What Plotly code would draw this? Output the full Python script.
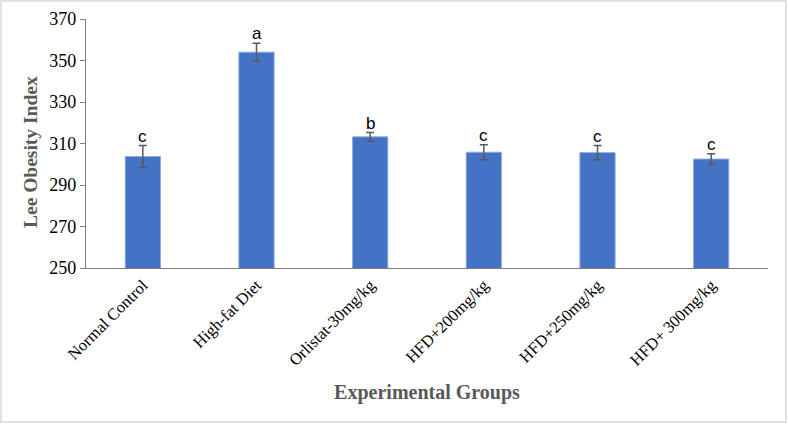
import plotly.graph_objects as go

groups = ["Normal Control", "High-fat Diet", "Orlistat-30mg/kg",
          "HFD+200mg/kg", "HFD+250mg/kg", "HFD+ 300mg/kg"]
values = [303.7, 354.0, 313.2, 305.8, 305.6, 302.5]
errors = [5.3, 4.3, 2.1, 3.6, 3.4, 2.6]
letters = ["c", "a", "b", "c", "c", "c"]
y_ticks = [250, 270, 290, 310, 330, 350, 370]

W, H = 788, 425
ML, MR, MT, MB = 86, 20, 19, 157
PW, PH = W - ML - MR, H - MT - MB

fig = go.Figure()
fig.add_trace(go.Bar(
    x=groups, y=values,
    marker=dict(color="#4472C4", line=dict(color="#8FAADC", width=1)),
    error_y=dict(type="data", array=errors, visible=True,
                 color="#595959", thickness=1.5, width=4),
    showlegend=False,
))

for g, v, e, l in zip(groups, values, errors, letters):
    fig.add_annotation(x=g, y=v + e, text=l, showarrow=False,
                       yanchor="bottom", yshift=-2,
                       font=dict(family="Liberation Sans, Arial", size=17, color="#000000"))

# y-axis title placed as annotation (slightly below plot centre as in reference)
fig.add_annotation(xref="paper", yref="paper",
                   x=(30 - ML) / PW, y=(MT + PH - 152) / PH,
                   text="<b>Lee Obesity Index</b>", textangle=-90, showarrow=False,
                   xanchor="center", yanchor="middle",
                   font=dict(family="Liberation Serif, Times New Roman, serif",
                             size=19.5, color="#595959"))

# outer light frame
fig.add_shape(type="rect", xref="paper", yref="paper",
              x0=(1 - ML) / PW, x1=(W - 2 - ML) / PW,
              y0=(MT + PH - (H - 3)) / PH, y1=(MT + PH - 1) / PH,
              line=dict(color="#D9D9D9", width=1.5), fillcolor="rgba(0,0,0,0)")

fig.update_layout(
    width=W, height=H,
    margin=dict(l=ML, r=MR, t=MT, b=MB, autoexpand=False),
    paper_bgcolor="white", plot_bgcolor="white",
    bargap=0.69,
    font=dict(family="Liberation Serif, Times New Roman, serif", color="#000000"),
    xaxis=dict(
        showline=True, linecolor="#7F7F7F", linewidth=1.2,
        ticks="", tickangle=-45, tickfont=dict(size=16.5, color="#000000"),
        title=dict(text="<b>Experimental Groups</b>", standoff=16,
                   font=dict(size=20, color="#595959")),
        automargin=False,
    ),
    yaxis=dict(
        range=[250, 370], tickvals=y_ticks, showgrid=False, zeroline=False,
        showline=True, linecolor="#7F7F7F", linewidth=1.2,
        ticks="outside", ticklen=5, tickcolor="#7F7F7F",
        tickfont=dict(size=18, color="#000000"),
        automargin=False,
    ),
)

fig.write_html("out.html", config={"displayModeBar": False},
               post_script="document.body.style.margin='0';")
